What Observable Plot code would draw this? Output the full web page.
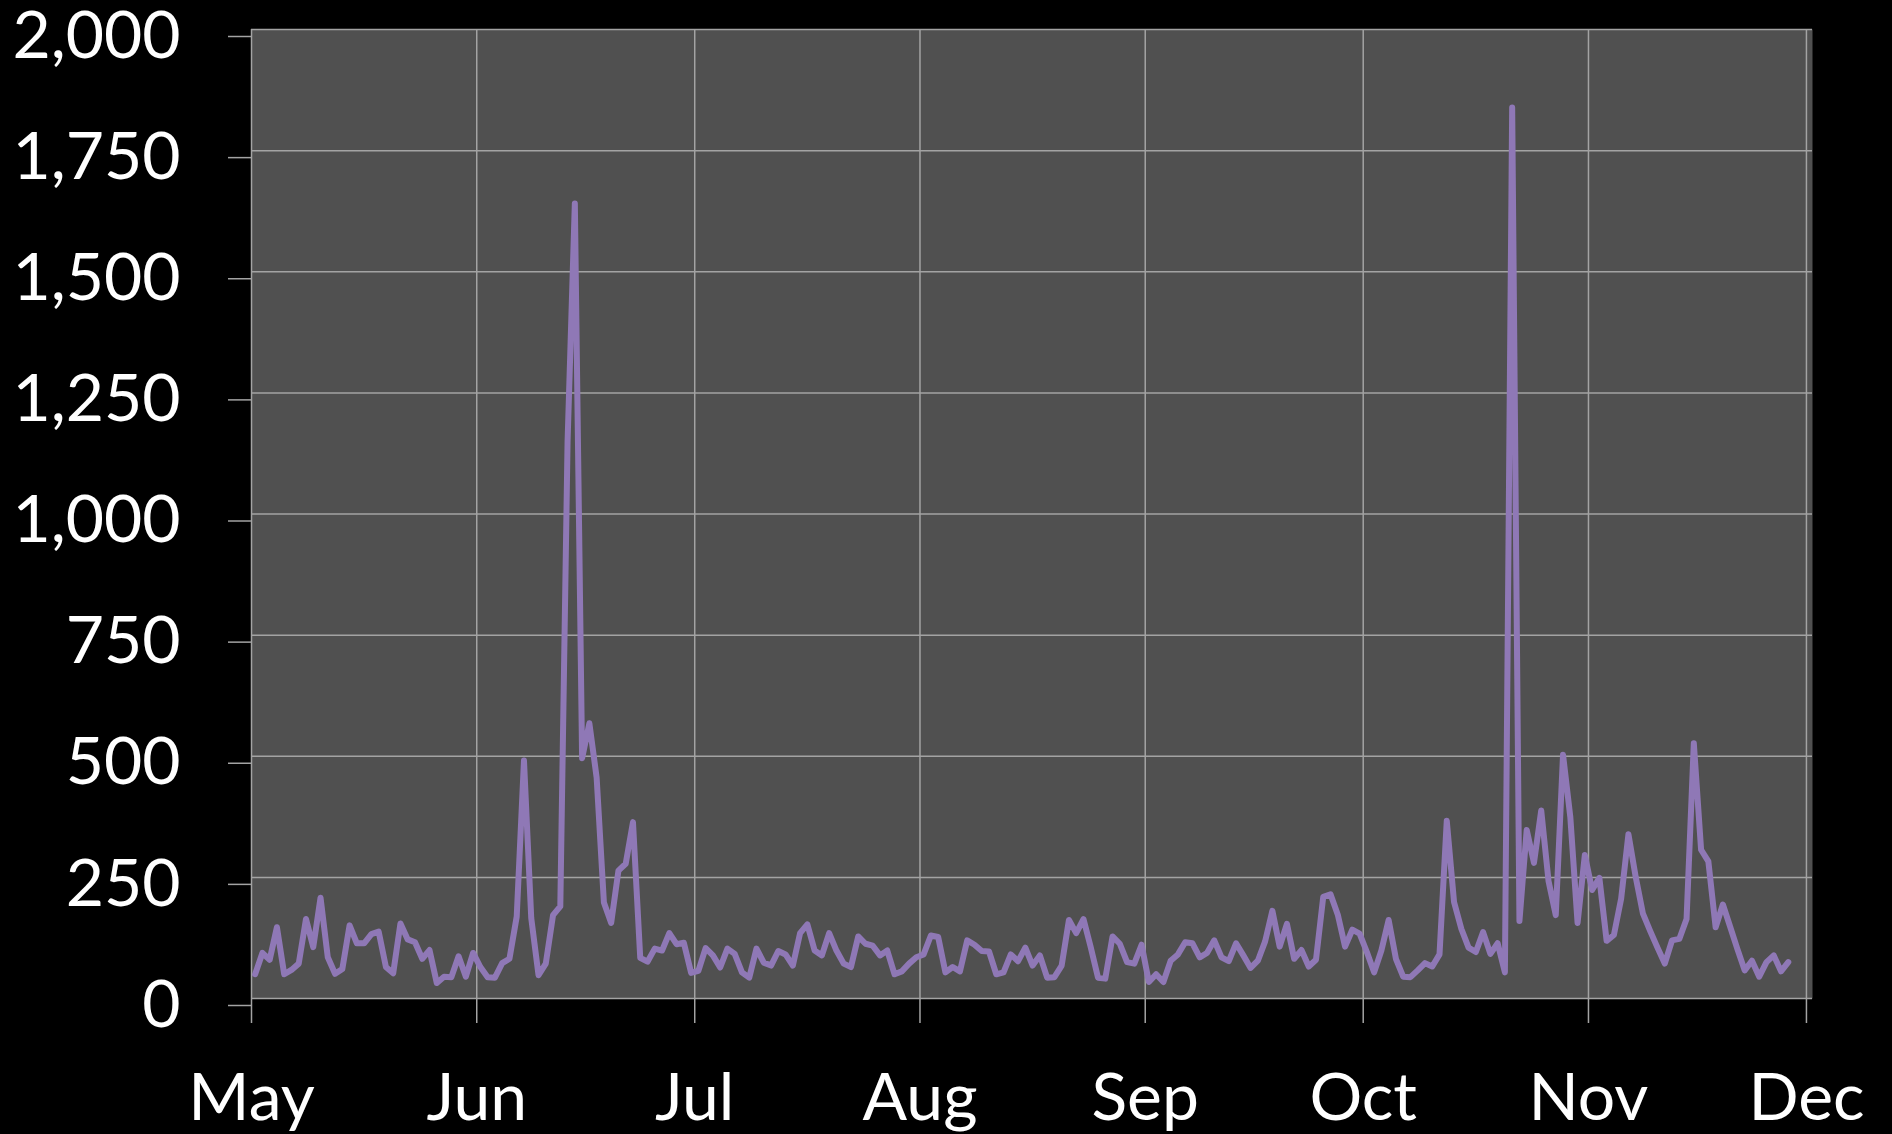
<!DOCTYPE html>
<html>
<head>
<meta charset="utf-8">
<script src="https://cdn.jsdelivr.net/npm/d3@7"></script>
<script src="https://cdn.jsdelivr.net/npm/@observablehq/plot@0.6"></script>
<style>
  html, body { margin: 0; padding: 0; background: #000; overflow: hidden; }
</style>
</head>
<body>
<div id="chart"></div>
<script>
// ---- data (daily counts starting May 1) ----
const startDay = "2013-05-01";
const dailyCounts = [
  50, 94, 80, 147, 50, 59, 72, 164, 106, 208,
  85, 51, 61, 151, 114, 114, 133, 138, 65, 52,
  155, 122, 116, 82, 100, 32, 45, 44, 87, 45,
  94, 65, 44, 43, 73, 82, 169, 491, 166, 48,
  72, 172, 190, 1150, 1641, 496, 568, 456, 198, 156,
  264, 278, 364, 84, 76, 103, 99, 135, 112, 115,
  53, 57, 104, 89, 64, 103, 92, 54, 43, 103,
  74, 68, 98, 91, 68, 135, 153, 99, 89, 135,
  99, 72, 65, 128, 113, 109, 89, 99, 50, 56,
  72, 85, 91, 130, 127, 54, 65, 56, 120, 111,
  98, 97, 50, 54, 91, 77, 105, 68, 89, 43,
  44, 68, 162, 135, 164, 106, 43, 41, 128, 113,
  75, 72, 111, 34, 50, 34, 78, 91, 116, 114,
  85, 94, 120, 85, 77, 114, 89, 63, 78, 118,
  181, 107, 154, 82, 100, 66, 80, 210, 215, 173,
  107, 142, 134, 96, 54, 99, 162, 82, 45, 44,
  58, 73, 66, 91, 367, 199, 144, 105, 96, 137,
  92, 114, 54, 1839, 160, 348, 280, 388, 243, 172,
  503, 375, 156, 296, 224, 249, 119, 131, 206, 339,
  251, 175, 139, 105, 72, 120, 123, 164, 527, 307,
  283, 147, 194, 148, 102, 58, 78, 45, 75, 89,
  56, 75
];
const monthTickDates = ["2013-05-01", "2013-06-01", "2013-07-01", "2013-08-01",
                        "2013-09-01", "2013-10-01", "2013-11-01", "2013-12-01"];
const monthLabels = ["May", "Jun", "Jul", "Aug", "Sep", "Oct", "Nov", "Dec"];
const yTicks = [0, 250, 500, 750, 1000, 1250, 1500, 1750, 2000];
const xDomain = ["2013-05-01T00:00:00Z", "2013-12-01T20:00:00Z"];

// ---- build table ----
const t0 = Date.parse(startDay + "T12:00:00Z");
const data = dailyCounts.map((v, i) => ({ date: new Date(t0 + i * 864e5), value: v }));
const tickDates = monthTickDates.map(d => new Date(d + "T00:00:00Z"));
const labelOf = new Map(tickDates.map((d, i) => [+d, monthLabels[i]]));

const gridColor = "#a3a3a3";

const chart = Plot.plot({
  width: 1892,
  height: 1134,
  marginLeft: 251,
  marginRight: 80,
  marginTop: 29,
  marginBottom: 136,
  style: { background: "#000", color: "#fff", fontFamily: "Lato, sans-serif", fontSize: "66px" },
  x: { type: "utc", domain: xDomain.map(d => new Date(d)) },
  y: { domain: [0, 2000] },
  marks: [
    Plot.frame({ fill: "#505050", stroke: "none" }),
    Plot.gridX(tickDates, { stroke: gridColor, strokeOpacity: 1, strokeWidth: 1.5 }),
    Plot.gridY(yTicks, { stroke: gridColor, strokeOpacity: 1, strokeWidth: 1.5 }),
    Plot.axisY(yTicks, {
      tickSize: 23, tickPadding: 48, stroke: gridColor, strokeWidth: 1.5, fill: "#fff",
      tickFormat: d3.format(","), dy: 7, fontSize: 66, label: null
    }),
    Plot.axisX(tickDates, {
      tickSize: 25, tickPadding: 50, stroke: gridColor, strokeWidth: 1.5, fill: "#fff",
      tickFormat: d => labelOf.get(+d), fontSize: 66, label: null
    }),
    Plot.lineY(data, {
      x: "date", y: "value", stroke: "#8f78b6", strokeWidth: 6,
      strokeLinejoin: "round", strokeLinecap: "round"
    })
  ]
});
document.getElementById("chart").appendChild(chart);
</script>
</body>
</html>
